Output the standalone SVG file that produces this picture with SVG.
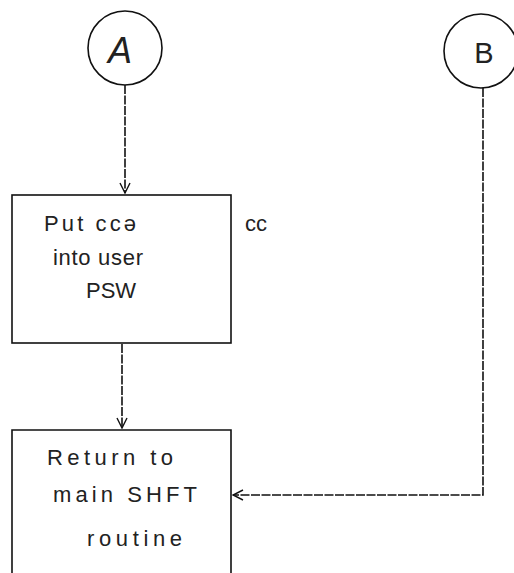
<svg xmlns="http://www.w3.org/2000/svg" width="514" height="573" viewBox="0 0 514 573">
<defs>
<marker id="v" viewBox="0 0 12 12" refX="11" refY="6" markerWidth="12" markerHeight="12" markerUnits="userSpaceOnUse" orient="auto">
<path d="M1,1 L11,6 L1,11" fill="none" stroke="#111" stroke-width="1.4"/>
</marker>
<style>
.shape{fill:none;stroke:#111;stroke-width:1.6}
.conn{fill:none;stroke:#111;stroke-width:1.6;stroke-dasharray:9 1.5}
.t{font-family:"Liberation Sans",Arial,sans-serif;font-size:22px;fill:#222}
.l{font-family:"Liberation Sans",Arial,sans-serif;fill:#222}
</style>
</defs>
<rect width="514" height="573" fill="#fff"/>
<g id="connectors">
<path class="conn" d="M125,85 V193" marker-end="url(#v)"/>
<path class="conn" d="M122,344 V428" marker-end="url(#v)"/>
<path class="conn" d="M483,88 V495 H233" marker-end="url(#v)"/>
</g>
<g id="A">
<circle class="shape" cx="125" cy="48" r="37"/>
<text class="l" x="120" y="63" text-anchor="middle" font-size="36" font-style="italic">A</text>
</g>
<g id="B">
<circle class="shape" cx="481" cy="51" r="37"/>
<text class="l" x="484" y="63" text-anchor="middle" font-size="29">B</text>
</g>
<g id="put">
<rect class="shape" x="12" y="195" width="219" height="148"/>
<text class="t" x="44" y="231" textLength="92" lengthAdjust="spacing">Put ccǝ</text>
<text class="t" x="53" y="265" textLength="90" lengthAdjust="spacing">into user</text>
<text class="t" x="86" y="298">PSW</text>
</g>
<text class="t" x="245" y="231">cc</text>
<g id="ret">
<path class="shape" d="M12,573 V430 H231 V573"/>
<text class="t" x="47" y="465" textLength="126" lengthAdjust="spacing">Return to</text>
<text class="t" x="53" y="502" textLength="144" lengthAdjust="spacing">main SHFT</text>
<text class="t" x="87" y="546" textLength="95" lengthAdjust="spacing">routine</text>
</g>
</svg>
